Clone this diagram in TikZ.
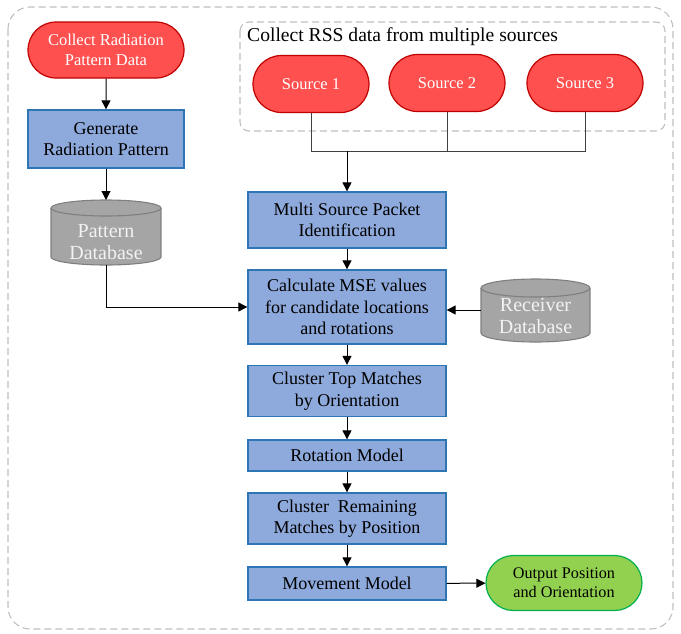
\documentclass[tikz,border=0pt]{standalone}
\usepackage{fontspec}
\setmainfont{Liberation Serif}
\usetikzlibrary{arrows.meta,shapes.misc}
\definecolor{boxblue}{HTML}{8EA9DB}
\definecolor{boxedge}{HTML}{2E75B6}
\definecolor{termred}{HTML}{FF5050}
\definecolor{termedge}{HTML}{C00000}
\definecolor{termgreen}{HTML}{92D050}
\definecolor{greenedge}{HTML}{00B050}
\definecolor{cylfill}{HTML}{A5A5A5}
\definecolor{cyledge}{HTML}{7F7F7F}
\definecolor{dashgray}{HTML}{BFBFBF}
\tikzset{
  proc/.style={rectangle, fill=boxblue, draw=boxedge, line width=1.3pt, align=center,
    inner sep=0pt, minimum width=198pt, font=\fontsize{18}{21.5}\selectfont},
  term/.style={rounded rectangle, fill=termred, draw=termedge, line width=1.2pt, align=center,
    inner sep=0pt, minimum width=116pt, minimum height=57pt, text=white,
    font=\fontsize{16.5}{20}\selectfont},
  cyltext/.style={align=center, text=white!95!black, inner sep=0pt, font=\fontsize{20}{22}\selectfont},
  conn/.style={line width=1pt, -{Triangle[length=9pt,width=9pt]}},
  plain/.style={line width=1pt},
  grp/.style={draw=dashgray, line width=1.1pt, dash pattern=on 7pt off 4pt},
  cylbody/.style={fill=cylfill, draw=cyledge, line width=1.1pt}
}
\begin{document}
\begin{tikzpicture}[x=1pt,y=-1pt]
\useasboundingbox (0,0) rectangle (681,633);
\draw[grp, rounded corners=22pt] (8,7) rectangle (673,629);
\draw[grp, rounded corners=9pt] (240,22) rectangle (665,131);
\node[anchor=west, inner sep=0pt, font=\fontsize{19.6}{22}\selectfont] (rsslabel) at (247,37) {Collect RSS data from multiple sources};

% left column
\node[term, minimum width=156pt, minimum height=56pt] (crp) at (106,50) {Collect Radiation\\Pattern Data};
\node[proc, minimum width=156pt, minimum height=58pt] (grp) at (106,139) {Generate\\Radiation Pattern};

% pattern database cylinder
\fill[cylfill] (51,208) rectangle (161,257);
\fill[cylfill] (106,257) ellipse (55 and 8);
\draw[cyledge, line width=1.1pt] (51,208) -- (51,257) arc[start angle=180, end angle=0, x radius=55, y radius=8] -- (161,208);
\draw[cylbody] (106,208) ellipse (55 and 8);
\node[cyltext] (pdb) at (106,242) {Pattern\\Database};
\coordinate (pdbbot) at (106,265);

% sources
\node[term] (s1) at (311,84) {Source 1};
\node[term] (s2) at (447,83) {Source 2};
\node[term] (s3) at (585,83) {Source 3};
\coordinate (j) at (347,151);

% main column
\node[proc, minimum height=56pt] (msp) at (347,220) {Multi Source Packet\\Identification};
\node[proc, minimum height=74pt] (mse) at (347,307) {Calculate MSE values\\for candidate locations\\and rotations};
\node[proc, minimum height=51pt] (ctm) at (347,391) {Cluster Top Matches\\by Orientation};
\node[proc, minimum height=31pt] (rot) at (347,455.5) {Rotation Model};
\node[proc, minimum height=51pt] (crm) at (347,518.5) {Cluster\ \ Remaining\\Matches by Position};
\node[proc, minimum height=33pt] (mov) at (347,583.5) {Movement Model};
\node[term, fill=termgreen, draw=greenedge, text=black, minimum width=156pt, minimum height=55pt,
  font=\fontsize{16.2}{19}\selectfont] (out) at (564,583) {Output Position\\and Orientation};

% receiver database cylinder
\fill[cylfill] (481,288) rectangle (590,333);
\fill[cylfill] (535.5,333) ellipse (54.5 and 9);
\draw[cyledge, line width=1.1pt] (481,288) -- (481,333) arc[start angle=180, end angle=0, x radius=54.5, y radius=9] -- (590,288);
\draw[cylbody] (535.5,288) ellipse (54.5 and 9);
\node[cyltext] (rdb) at (535.5,316) {Receiver\\Database};
\coordinate (rdbleft) at (481,310);

% connectors
\draw[conn] (crp) -- (grp);
\draw[conn] (grp.south) -- (106,200);
\draw[conn] (pdbbot) |- (mse.west);
\draw[plain, black!75] (s1.south) -- (s1.south |- j) -- (s3.south |- j) -- (s3.south);
\draw[plain, black!75] (s2.south) -- (s2.south |- j);
\draw[conn] (j) -- (msp.north);
\draw[conn] (msp) -- (mse);
\draw[conn] (rdbleft) -- (mse.east |- rdbleft);
\draw[conn] (mse) -- (ctm);
\draw[conn] (ctm) -- (rot);
\draw[conn] (rot) -- (crm);
\draw[conn] (crm) -- (mov);
\draw[conn] (mov) -- (out);
\end{tikzpicture}
\end{document}
